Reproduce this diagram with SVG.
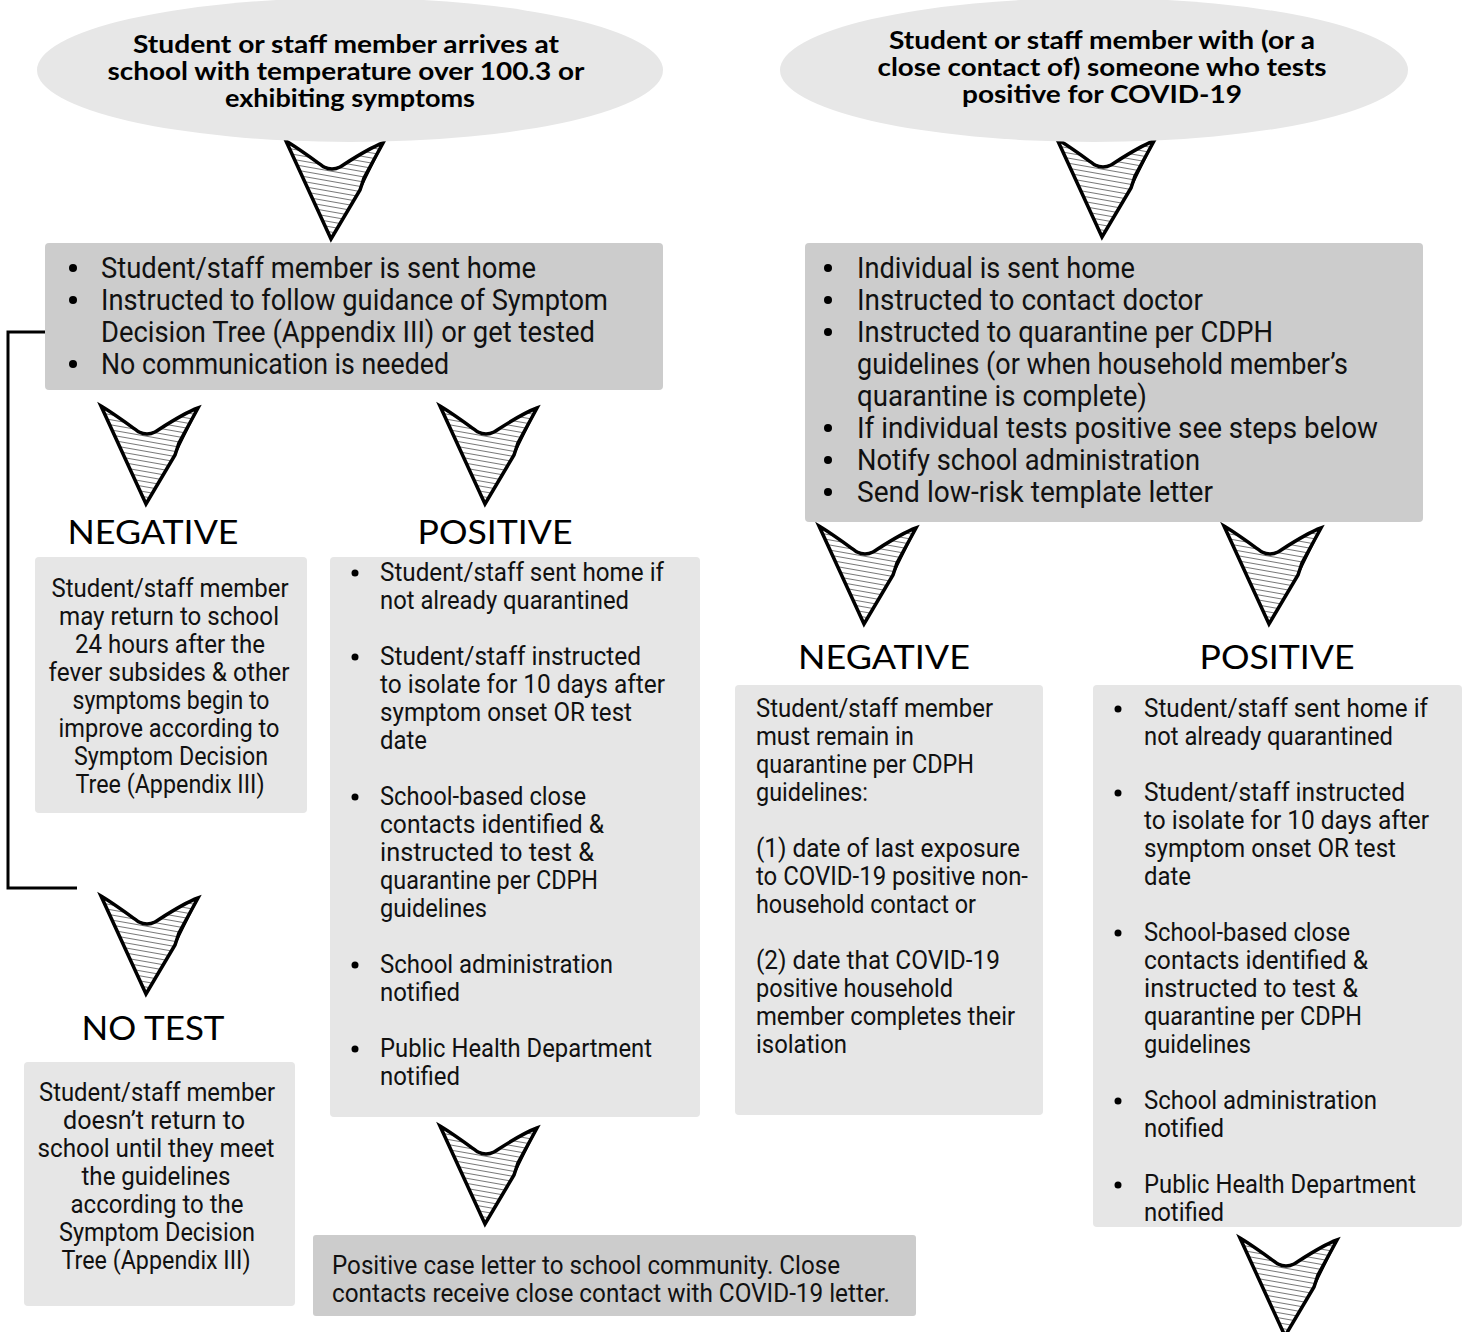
<svg xmlns="http://www.w3.org/2000/svg" xmlns:xlink="http://www.w3.org/1999/xlink" width="1465" height="1332" viewBox="0 0 1465 1332">
<style>
.ell{fill:#e7e7e7}
.dark{fill:#cccccc}
.light{fill:#e6e6e6}
.title{font-family:Lato,"Liberation Sans",sans-serif;font-weight:bold;font-size:24px;fill:#000;text-anchor:middle}
.lbl{font-family:Lato,"Liberation Sans",sans-serif;font-size:33px;fill:#000;text-anchor:middle}
.big{font-family:Roboto,"Liberation Sans",sans-serif;font-size:29px;fill:#111}
.sm{font-family:Roboto,"Liberation Sans",sans-serif;font-size:25px;fill:#111}
.mid{text-anchor:middle}
.conn{fill:none;stroke:#000;stroke-width:3}
</style>
<defs>
<pattern id="hatch" width="10" height="5" patternUnits="userSpaceOnUse" patternTransform="rotate(10)">
<line x1="0" y1="2.5" x2="10" y2="2.5" stroke="#555" stroke-width="0.8"/>
</pattern>
<symbol id="arrow" viewBox="0 0 100 100" overflow="visible">
<path d="M2,1 C14,8 30,20 40,27 Q48,31 56,27 C70,18 85,8 99,3 L80,38 L76,50 L47,99 Z" fill="url(#hatch)" stroke="#000" stroke-width="3.5" stroke-linejoin="miter"/>
<path d="M2,1 L47,99 M99,3 L76,50" fill="none" stroke="#000" stroke-width="1.5"/>
</symbol>
</defs>

<g id="connectors">
<path class="conn" d="M45,332 H8 V888 H77"/>
<use href="#arrow" x="284" y="140" width="100" height="100"/>
<use href="#arrow" x="1055" y="138" width="100" height="100"/>
<use href="#arrow" x="99" y="405" width="100" height="100"/>
<use href="#arrow" x="438" y="405" width="100" height="100"/>
<use href="#arrow" x="817" y="525" width="100" height="100"/>
<use href="#arrow" x="1222" y="525" width="100" height="100"/>
<use href="#arrow" x="99" y="895" width="100" height="100"/>
<use href="#arrow" x="438" y="1125" width="100" height="100"/>
<use href="#arrow" x="1238" y="1237" width="100" height="100"/>
</g>

<g id="start-left">
<ellipse class="ell" cx="350" cy="70" rx="313" ry="72"/>
<text class="title" x="346" y="53" textLength="426" lengthAdjust="spacingAndGlyphs">Student or staff member arrives at</text>
<text class="title" x="346" y="80" textLength="477" lengthAdjust="spacingAndGlyphs">school with temperature over 100.3 or</text>
<text class="title" x="350" y="107" textLength="250" lengthAdjust="spacingAndGlyphs">exhibiting symptoms</text>
</g>

<g id="start-right">
<ellipse class="ell" cx="1094" cy="70" rx="314" ry="72"/>
<text class="title" x="1102" y="49" textLength="426" lengthAdjust="spacingAndGlyphs">Student or staff member with (or a</text>
<text class="title" x="1102" y="76" textLength="449" lengthAdjust="spacingAndGlyphs">close contact of) someone who tests</text>
<text class="title" x="1102" y="103" textLength="280" lengthAdjust="spacingAndGlyphs">positive for COVID-19</text>
</g>

<g id="sent-home-left">
<rect class="dark" x="45" y="243" width="618" height="147" rx="4"/>
<circle cx="73" cy="268" r="4"/>
<circle cx="73" cy="300" r="4"/>
<circle cx="73" cy="364" r="4"/>
<text class="big" x="101" y="278" textLength="435" lengthAdjust="spacingAndGlyphs">Student/staff member is sent home</text>
<text class="big" x="101" y="310" textLength="507" lengthAdjust="spacingAndGlyphs">Instructed to follow guidance of Symptom</text>
<text class="big" x="101" y="342" textLength="494" lengthAdjust="spacingAndGlyphs">Decision Tree (Appendix III) or get tested</text>
<text class="big" x="101" y="374" textLength="348" lengthAdjust="spacingAndGlyphs">No communication is needed</text>
</g>

<g id="sent-home-right">
<rect class="dark" x="805" y="243" width="618" height="279" rx="4"/>
<circle cx="828" cy="268" r="4"/>
<circle cx="828" cy="300" r="4"/>
<circle cx="828" cy="332" r="4"/>
<circle cx="828" cy="428" r="4"/>
<circle cx="828" cy="460" r="4"/>
<circle cx="828" cy="492" r="4"/>
<text class="big" x="857" y="278" textLength="278" lengthAdjust="spacingAndGlyphs">Individual is sent home</text>
<text class="big" x="857" y="310" textLength="346" lengthAdjust="spacingAndGlyphs">Instructed to contact doctor</text>
<text class="big" x="857" y="342" textLength="416" lengthAdjust="spacingAndGlyphs">Instructed to quarantine per CDPH</text>
<text class="big" x="857" y="374" textLength="491" lengthAdjust="spacingAndGlyphs">guidelines (or when household member’s</text>
<text class="big" x="857" y="406" textLength="290" lengthAdjust="spacingAndGlyphs">quarantine is complete)</text>
<text class="big" x="857" y="438" textLength="521" lengthAdjust="spacingAndGlyphs">If individual tests positive see steps below</text>
<text class="big" x="857" y="470" textLength="343" lengthAdjust="spacingAndGlyphs">Notify school administration</text>
<text class="big" x="857" y="502" textLength="356" lengthAdjust="spacingAndGlyphs">Send low-risk template letter</text>
</g>

<g id="label-negative-left"><text class="lbl" x="153" y="544" textLength="171" lengthAdjust="spacingAndGlyphs">NEGATIVE</text></g>
<g id="label-positive-left"><text class="lbl" x="495" y="544" textLength="155" lengthAdjust="spacingAndGlyphs">POSITIVE</text></g>
<g id="label-negative-right"><text class="lbl" x="884" y="669" textLength="172" lengthAdjust="spacingAndGlyphs">NEGATIVE</text></g>
<g id="label-positive-right"><text class="lbl" x="1277" y="669" textLength="155" lengthAdjust="spacingAndGlyphs">POSITIVE</text></g>
<g id="label-notest"><text class="lbl" x="153" y="1040" textLength="143" lengthAdjust="spacingAndGlyphs">NO TEST</text></g>

<g id="negative-left">
<rect class="light" x="35" y="557" width="272" height="256" rx="4"/>
<text class="sm mid" x="170" y="597" textLength="237" lengthAdjust="spacingAndGlyphs">Student/staff member</text>
<text class="sm mid" x="169" y="625" textLength="220" lengthAdjust="spacingAndGlyphs">may return to school</text>
<text class="sm mid" x="170" y="653" textLength="190" lengthAdjust="spacingAndGlyphs">24 hours after the</text>
<text class="sm mid" x="169" y="681" textLength="241" lengthAdjust="spacingAndGlyphs">fever subsides &amp; other</text>
<text class="sm mid" x="171" y="709" textLength="197" lengthAdjust="spacingAndGlyphs">symptoms begin to</text>
<text class="sm mid" x="169" y="737" textLength="221" lengthAdjust="spacingAndGlyphs">improve according to</text>
<text class="sm mid" x="171" y="765" textLength="194" lengthAdjust="spacingAndGlyphs">Symptom Decision</text>
<text class="sm mid" x="170" y="793" textLength="189" lengthAdjust="spacingAndGlyphs">Tree (Appendix III)</text>
</g>

<g id="positive-left">
<rect class="light" x="330" y="557" width="370" height="560" rx="4"/>
<circle cx="355" cy="573" r="3.5"/>
<circle cx="355" cy="657" r="3.5"/>
<circle cx="355" cy="797" r="3.5"/>
<circle cx="355" cy="965" r="3.5"/>
<circle cx="355" cy="1049" r="3.5"/>
<text class="sm" x="380" y="581" textLength="284" lengthAdjust="spacingAndGlyphs">Student/staff sent home if</text>
<text class="sm" x="380" y="609" textLength="249" lengthAdjust="spacingAndGlyphs">not already quarantined</text>
<text class="sm" x="380" y="665" textLength="261" lengthAdjust="spacingAndGlyphs">Student/staff instructed</text>
<text class="sm" x="380" y="693" textLength="285" lengthAdjust="spacingAndGlyphs">to isolate for 10 days after</text>
<text class="sm" x="380" y="721" textLength="252" lengthAdjust="spacingAndGlyphs">symptom onset OR test</text>
<text class="sm" x="380" y="749" textLength="47" lengthAdjust="spacingAndGlyphs">date</text>
<text class="sm" x="380" y="805" textLength="206" lengthAdjust="spacingAndGlyphs">School-based close</text>
<text class="sm" x="380" y="833" textLength="224" lengthAdjust="spacingAndGlyphs">contacts identified &amp;</text>
<text class="sm" x="380" y="861" textLength="214" lengthAdjust="spacingAndGlyphs">instructed to test &amp;</text>
<text class="sm" x="380" y="889" textLength="218" lengthAdjust="spacingAndGlyphs">quarantine per CDPH</text>
<text class="sm" x="380" y="917" textLength="107" lengthAdjust="spacingAndGlyphs">guidelines</text>
<text class="sm" x="380" y="973" textLength="233" lengthAdjust="spacingAndGlyphs">School administration</text>
<text class="sm" x="380" y="1001" textLength="80" lengthAdjust="spacingAndGlyphs">notified</text>
<text class="sm" x="380" y="1057" textLength="272" lengthAdjust="spacingAndGlyphs">Public Health Department</text>
<text class="sm" x="380" y="1085" textLength="80" lengthAdjust="spacingAndGlyphs">notified</text>
</g>

<g id="notest">
<rect class="light" x="24" y="1062" width="271" height="244" rx="4"/>
<text class="sm mid" x="157" y="1101" textLength="236" lengthAdjust="spacingAndGlyphs">Student/staff member</text>
<text class="sm mid" x="154" y="1129" textLength="182" lengthAdjust="spacingAndGlyphs">doesn’t return to</text>
<text class="sm mid" x="156" y="1157" textLength="237" lengthAdjust="spacingAndGlyphs">school until they meet</text>
<text class="sm mid" x="156" y="1185" textLength="149" lengthAdjust="spacingAndGlyphs">the guidelines</text>
<text class="sm mid" x="157" y="1213" textLength="173" lengthAdjust="spacingAndGlyphs">according to the</text>
<text class="sm mid" x="157" y="1241" textLength="196" lengthAdjust="spacingAndGlyphs">Symptom Decision</text>
<text class="sm mid" x="156" y="1269" textLength="189" lengthAdjust="spacingAndGlyphs">Tree (Appendix III)</text>
</g>

<g id="letter">
<rect class="dark" x="313" y="1235" width="603" height="81" rx="3"/>
<text class="sm" x="332" y="1274" textLength="508" lengthAdjust="spacingAndGlyphs">Positive case letter to school community. Close</text>
<text class="sm" x="332" y="1302" textLength="558" lengthAdjust="spacingAndGlyphs">contacts receive close contact with COVID-19 letter.</text>
</g>

<g id="negative-right">
<rect class="light" x="735" y="685" width="308" height="430" rx="4"/>
<text class="sm" x="756" y="717" textLength="237" lengthAdjust="spacingAndGlyphs">Student/staff member</text>
<text class="sm" x="756" y="745" textLength="158" lengthAdjust="spacingAndGlyphs">must remain in</text>
<text class="sm" x="756" y="773" textLength="218" lengthAdjust="spacingAndGlyphs">quarantine per CDPH</text>
<text class="sm" x="756" y="801" textLength="112" lengthAdjust="spacingAndGlyphs">guidelines:</text>
<text class="sm" x="756" y="857" textLength="264" lengthAdjust="spacingAndGlyphs">(1) date of last exposure</text>
<text class="sm" x="756" y="885" textLength="272" lengthAdjust="spacingAndGlyphs">to COVID-19 positive non-</text>
<text class="sm" x="756" y="913" textLength="220" lengthAdjust="spacingAndGlyphs">household contact or</text>
<text class="sm" x="756" y="969" textLength="244" lengthAdjust="spacingAndGlyphs">(2) date that COVID-19</text>
<text class="sm" x="756" y="997" textLength="197" lengthAdjust="spacingAndGlyphs">positive household</text>
<text class="sm" x="756" y="1025" textLength="259" lengthAdjust="spacingAndGlyphs">member completes their</text>
<text class="sm" x="756" y="1053" textLength="91" lengthAdjust="spacingAndGlyphs">isolation</text>
</g>

<g id="positive-right">
<rect class="light" x="1093" y="685" width="369" height="542" rx="4"/>
<circle cx="1118" cy="709" r="3.5"/>
<circle cx="1118" cy="793" r="3.5"/>
<circle cx="1118" cy="933" r="3.5"/>
<circle cx="1118" cy="1101" r="3.5"/>
<circle cx="1118" cy="1185" r="3.5"/>
<text class="sm" x="1144" y="717" textLength="284" lengthAdjust="spacingAndGlyphs">Student/staff sent home if</text>
<text class="sm" x="1144" y="745" textLength="249" lengthAdjust="spacingAndGlyphs">not already quarantined</text>
<text class="sm" x="1144" y="801" textLength="261" lengthAdjust="spacingAndGlyphs">Student/staff instructed</text>
<text class="sm" x="1144" y="829" textLength="285" lengthAdjust="spacingAndGlyphs">to isolate for 10 days after</text>
<text class="sm" x="1144" y="857" textLength="252" lengthAdjust="spacingAndGlyphs">symptom onset OR test</text>
<text class="sm" x="1144" y="885" textLength="47" lengthAdjust="spacingAndGlyphs">date</text>
<text class="sm" x="1144" y="941" textLength="206" lengthAdjust="spacingAndGlyphs">School-based close</text>
<text class="sm" x="1144" y="969" textLength="224" lengthAdjust="spacingAndGlyphs">contacts identified &amp;</text>
<text class="sm" x="1144" y="997" textLength="214" lengthAdjust="spacingAndGlyphs">instructed to test &amp;</text>
<text class="sm" x="1144" y="1025" textLength="218" lengthAdjust="spacingAndGlyphs">quarantine per CDPH</text>
<text class="sm" x="1144" y="1053" textLength="107" lengthAdjust="spacingAndGlyphs">guidelines</text>
<text class="sm" x="1144" y="1109" textLength="233" lengthAdjust="spacingAndGlyphs">School administration</text>
<text class="sm" x="1144" y="1137" textLength="80" lengthAdjust="spacingAndGlyphs">notified</text>
<text class="sm" x="1144" y="1193" textLength="272" lengthAdjust="spacingAndGlyphs">Public Health Department</text>
<text class="sm" x="1144" y="1221" textLength="80" lengthAdjust="spacingAndGlyphs">notified</text>
</g>
</svg>
